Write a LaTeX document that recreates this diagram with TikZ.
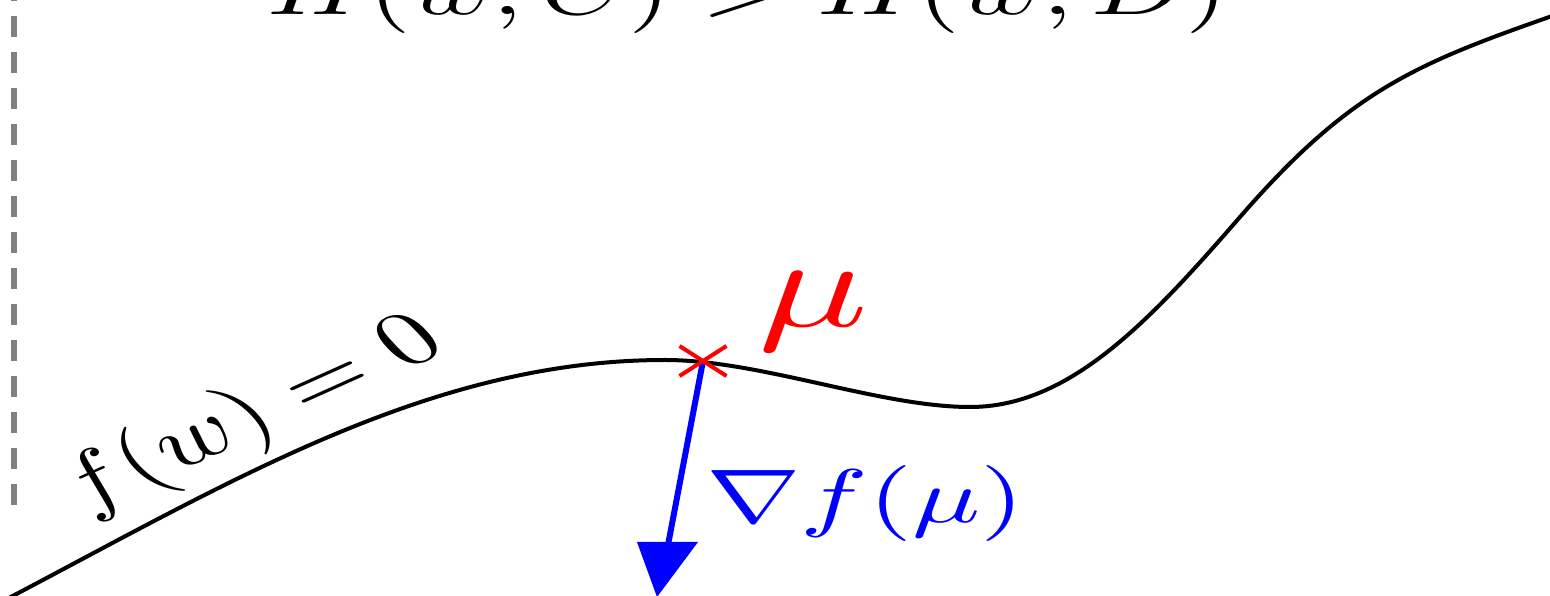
\documentclass[tikz,border=0pt]{standalone}
\usetikzlibrary{shapes.misc}
\begin{document}
\begin{tikzpicture}[x=0.1pt,y=-0.1pt,
  lbl/.style={inner sep=0pt,outer sep=0pt,xscale=1.1,yscale=0.76},
  curveline/.style={black,line width=0.4pt},
  guide/.style={gray,line width=0.6pt,dash pattern=on 2.1pt off 1.5pt},
  grad/.style={blue,line width=0.6pt},
  gradhead/.style={fill=blue,draw=none},
  crossmark/.style={cross out,draw=red,line width=0.4pt,minimum width=4.7pt,minimum height=3pt,inner sep=0pt,outer sep=0pt}]
\useasboundingbox (0,0) rectangle (1550,596);
% dashed guide
\coordinate (gbot) at (14,505);
\coordinate (gtop) at (14,0);
\draw[guide] (gbot) -- (gtop);
% constraint curve
\draw[curveline] (5,600) .. controls (230,482) and (430,360) .. (665,360)
  .. controls (760,360) and (880,407) .. (970,407)
  .. controls (1070,407) and (1150,320.5) .. (1240,217)
  .. controls (1350,90.5) and (1415,64) .. (1555,15);
% point and gradient
\coordinate (mu) at (703,361);
\coordinate (hbase) at (668,545);
\coordinate (hl) at (637,542);
\coordinate (hr) at (698,542);
\coordinate (tip) at (657,597);
\draw[grad] (mu) -- (hbase);
\fill[gradhead] (hl) -- (hr) -- (tip) -- cycle;
\node[crossmark] (cross) at (mu) {};
% labels
\node[lbl,text=red,anchor=base west,scale=1.66] (mulabel) at (758,327) {$\mu$};
\node[lbl,xscale=1.03,text=blue,anchor=base west] (gradlabel) at (706,523) {$\nabla f(\mu)$};
\node[lbl,anchor=base] (toplabel) at (748,15) {$H(w,C) > H(w,D)$};
\node[lbl,rotate=33,anchor=base east] (flabel) at (450,350) {$f(w) = 0$};
\end{tikzpicture}
\end{document}
